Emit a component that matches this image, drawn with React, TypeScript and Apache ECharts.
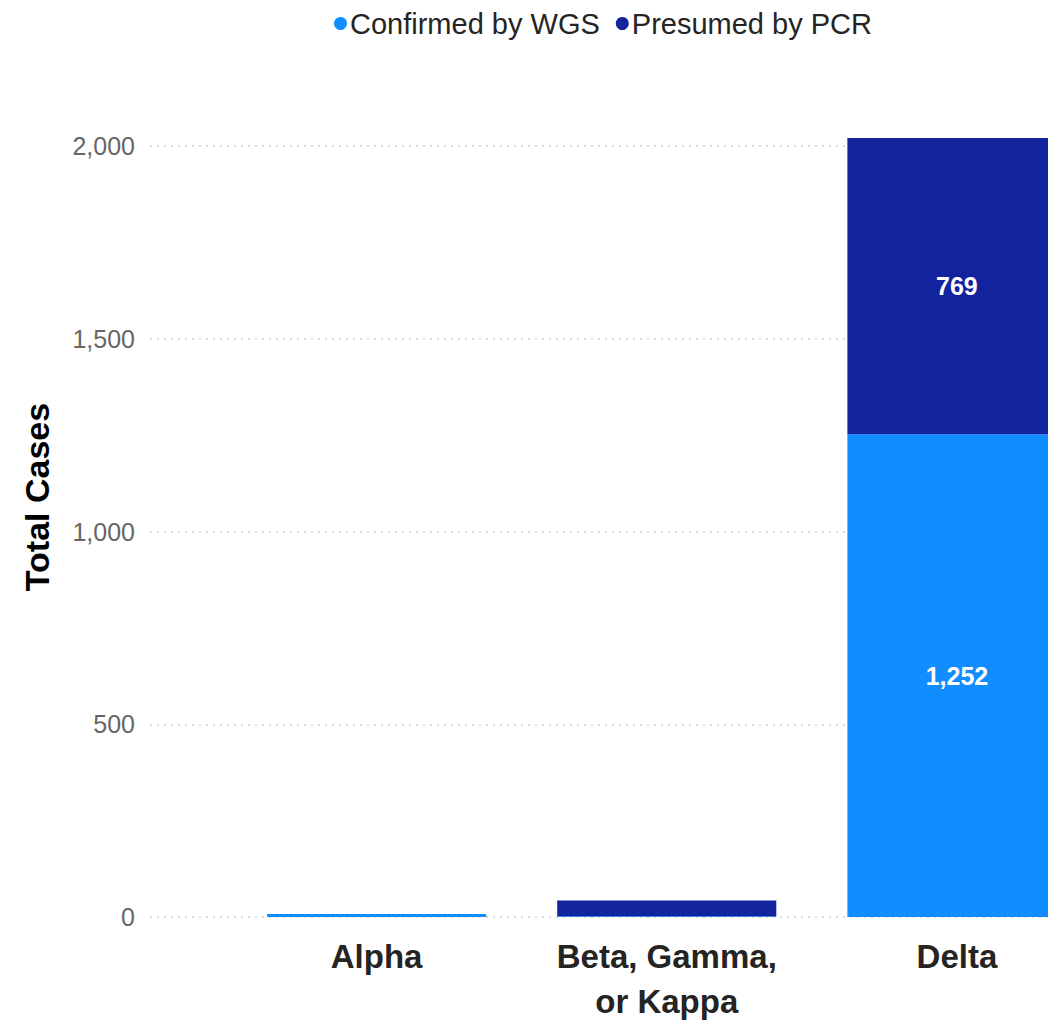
import React, { useEffect, useRef } from "react";
import * as echarts from "echarts";

const categories = ["Alpha", "Beta, Gamma,\nor Kappa", "Delta"];
const confirmedByWGS = [8, 2, 1252];
const presumedByPCR = [0, 41, 769];
const yTicks = [0, 500, 1000, 1500, 2000];
const seriesNames = ["Confirmed by WGS", "Presumed by PCR"];
const axisTitle = "Total Cases";

const FONT = "'Liberation Sans', Arial, sans-serif";

export default function App() {
  const ref = useRef<HTMLDivElement>(null);
  useEffect(() => {
    document.body.style.margin = "0";
    document.body.style.overflow = "hidden";
    document.documentElement.style.overflow = "hidden";
    const chart = echarts.init(ref.current!, null, { renderer: "svg" });
    const yMax = yTicks[yTicks.length - 1];
    const yInterval = yTicks[1] - yTicks[0];
    chart.setOption({
      animation: false,
      textStyle: { fontFamily: FONT },
      legend: {
        data: seriesNames,
        left: 329,
        top: 4,
        icon: "circle",
        itemWidth: 13,
        itemHeight: 13,
        itemGap: 16,
        textStyle: { fontSize: 29, color: "#252423", fontFamily: FONT, padding: [0, 0, 0, -2] },
      },
      grid: [
        { left: 150, top: 146, bottom: 109, right: 0 },
        { left: 231.5, top: 146, bottom: 109, right: 0 },
      ],
      xAxis: [
        { type: "value", gridIndex: 0, show: false, min: 0, max: 1 },
        {
          type: "category",
          gridIndex: 1,
          data: categories,
          axisLine: { show: false },
          axisTick: { show: false },
          axisLabel: {
            interval: 0,
            fontSize: 33,
            fontWeight: "bold",
            color: "#252423",
            lineHeight: 45,
            margin: 17,
            fontFamily: FONT,
          },
        },
      ],
      yAxis: [
        {
          type: "value",
          gridIndex: 0,
          min: 0,
          max: yMax,
          interval: yInterval,
          axisLine: { show: false },
          axisTick: { show: false },
          axisLabel: {
            fontSize: 25,
            color: "#666666",
            margin: 15,
            fontFamily: FONT,
            formatter: (v: number) => v.toLocaleString("en-US"),
          },
          splitLine: { lineStyle: { type: [2, 5], color: "#cfcfcf", width: 1.5 } },
        },
        {
          type: "value",
          gridIndex: 1,
          min: 0,
          max: yMax,
          interval: yInterval,
          show: false,
          splitLine: { show: false },
        },
      ],
      graphic: [
        {
          type: "text",
          x: 37,
          y: 497,
          rotation: Math.PI / 2,
          style: {
            text: axisTitle,
            fontSize: 34,
            fontWeight: "bold",
            fill: "#000000",
            fontFamily: FONT,
            align: "center",
            verticalAlign: "middle",
          },
        },
      ],
      series: [
        {
          name: seriesNames[0],
          type: "bar",
          stack: "total",
          xAxisIndex: 1,
          yAxisIndex: 1,
          barWidth: "75.5%",
          clip: false,
          data: confirmedByWGS,
          itemStyle: { color: "#118DFF" },
          label: {
            show: true,
            position: "inside",
            color: "#ffffff",
            fontSize: 25,
            fontWeight: "bold",
            fontFamily: FONT,
            formatter: (p: any) => (p.value > 100 ? p.value.toLocaleString("en-US") : ""),
          },
        },
        {
          name: seriesNames[1],
          type: "bar",
          stack: "total",
          xAxisIndex: 1,
          yAxisIndex: 1,
          barWidth: "75.5%",
          clip: false,
          data: presumedByPCR,
          itemStyle: { color: "#12239E" },
          label: {
            show: true,
            position: "inside",
            color: "#ffffff",
            fontSize: 25,
            fontWeight: "bold",
            fontFamily: FONT,
            formatter: (p: any) => (p.value > 100 ? p.value.toLocaleString("en-US") : ""),
          },
        },
      ],
    });
    return () => chart.dispose();
  }, []);
  return <div ref={ref} style={{ width: 1102, height: 1026 }} />;
}
